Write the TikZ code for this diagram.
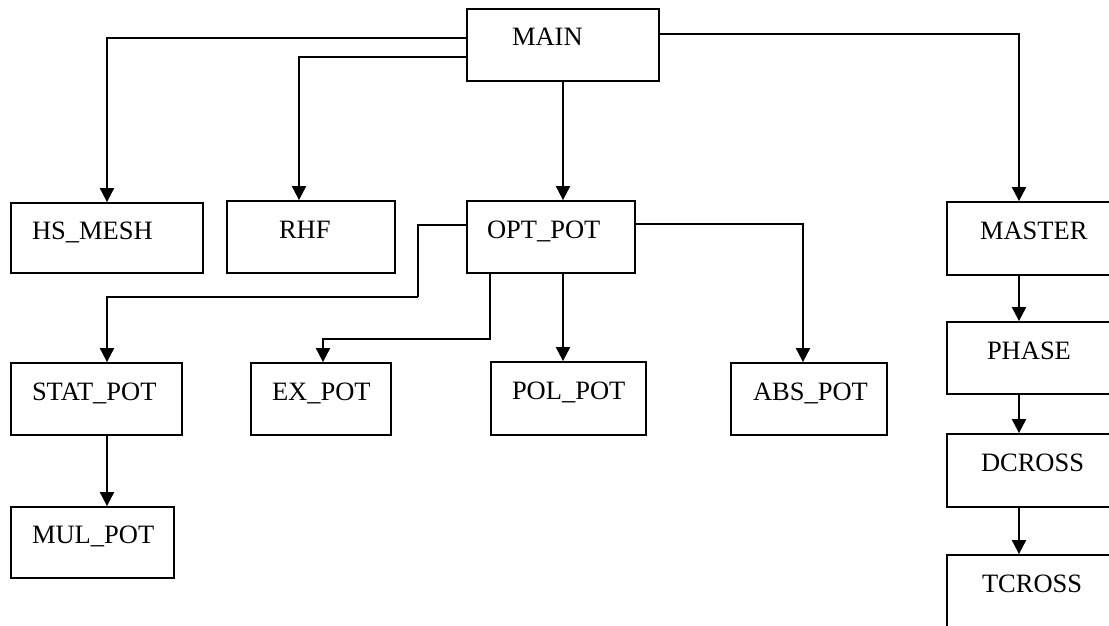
\documentclass[tikz,border=0pt]{standalone}
\usepackage{fontspec}
\setmainfont{Liberation Serif}
\usetikzlibrary{arrows.meta}
\tikzset{
  box/.style={
    draw=black,
    line width=1.8pt,
    rectangle,
    inner xsep=0pt,
    inner ysep=0pt,
    align=left,
    text height=18pt,
    text depth=16pt,
    minimum height=72pt,
    font=\fontsize{26.5}{30}\selectfont
  },
  link/.style={
    draw=black,
    line width=2pt,
    line join=miter
  },
  link-arrow/.style={
    link,
    -{Triangle[width=14pt,length=14pt]}
  }
}

\begin{document}
\begin{tikzpicture}[x=1pt,y=-1pt]
  \useasboundingbox (0,0) rectangle (1109,626);
  \clip (0,0) rectangle (1109,626);

  % --- top level ---
  \node[box, text width=192pt] (main) at (563,45) {\hspace*{45pt}MAIN};

  % --- second row ---
  \node[box, text width=192pt, minimum height=70pt] (hsmesh) at (107,238) {\hspace*{21pt}HS\_MESH};
  \node[box, text width=168pt] (rhf)    at (311,237) {\hspace*{52pt}RHF};
  \node[box, text width=168pt] (optpot) at (551,237) {\hspace*{20pt}OPT\_POT};
  \node[box, text width=180pt, minimum height=73pt] (master) at (1037,238.5) {\hspace*{33pt}MASTER};

  % --- potentials ---
  \node[box, text width=171pt] (statpot) at (96.5,399) {\hspace*{21pt}STAT\_POT};
  \node[box, text width=140pt] (expot)   at (321,399)  {\hspace*{21pt}EX\_POT};
  \node[box, text width=155pt, minimum height=73pt] (polpot) at (568.5,398.5) {\hspace*{21pt}POL\_POT};
  \node[box, text width=156pt] (abspot)  at (809,399)  {\hspace*{22pt}ABS\_POT};
  \node[box, text width=163pt, minimum height=71pt] (mulpot) at (92.5,542.5) {\hspace*{21pt}MUL\_POT};

  % --- right column (runs off the page) ---
  \node[box, text width=180pt] (phase)  at (1037,358)   {\hspace*{40pt}PHASE};
  \node[box, text width=180pt, minimum height=73pt] (dcross) at (1037,470.5) {\hspace*{34pt}DCROSS};
  \node[box, text width=180pt] (tcross) at (1037,591)   {\hspace*{35pt}TCROSS};

  % bend points of the routed links
  \coordinate (bendst) at (418,297);

  % --- links from MAIN ---
  \draw[link-arrow] ([yshift=7pt]main.west) -| (hsmesh.north);
  \draw[link-arrow] ([yshift=-12pt]main.west) -| ([xshift=-12pt]rhf.north);
  \draw[link-arrow] (main.south) -- (main.south |- optpot.north);
  \draw[link-arrow] ([yshift=11pt]main.east) -| ([xshift=-18pt]master.north);

  % --- links from OPT_POT ---
  \draw[link] ([yshift=12pt]optpot.west) -| (bendst);
  \draw[link-arrow] (bendst) -| ([xshift=10.5pt]statpot.north);
  \draw[link-arrow] ([xshift=24pt]optpot.south west) -- ++(0,65) -| ([xshift=2pt]expot.north);
  \draw[link-arrow] (main.south |- optpot.south) -- (main.south |- polpot.north);
  \draw[link-arrow] ([yshift=13pt]optpot.east) -| ([xshift=-6pt]abspot.north);
  \draw[link-arrow] (hsmesh.south |- statpot.south) -- (hsmesh.south |- mulpot.north);

  % --- right column chain ---
  \draw[link-arrow] ([xshift=-18pt]master.south) -- ([xshift=-18pt]phase.north);
  \draw[link-arrow] ([xshift=-18pt]phase.south) -- ([xshift=-18pt]dcross.north);
  \draw[link-arrow] ([xshift=-18pt]dcross.south) -- ([xshift=-18pt]tcross.north);
\end{tikzpicture}
\end{document}
